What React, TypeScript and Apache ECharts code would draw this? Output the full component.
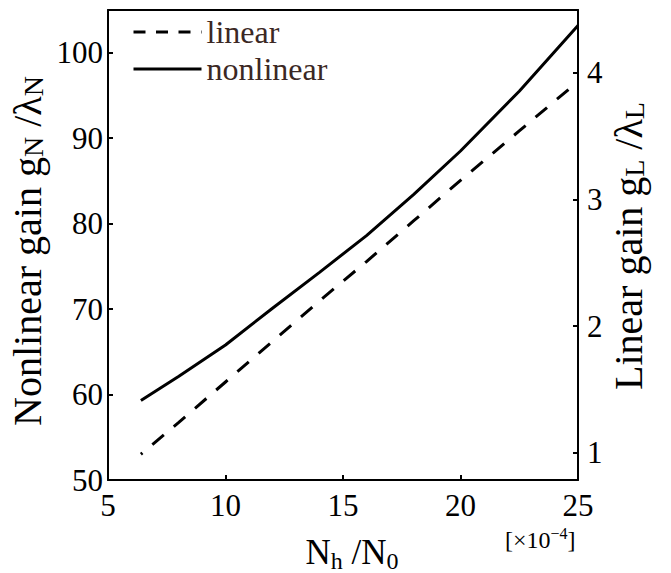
import React, { useEffect, useRef } from "react";
import * as echarts from "echarts";

// Hole density N_h/N_0 (in units of 1e-4)
const densityRatio = [6.4, 8, 10, 12, 14, 16, 18, 20, 22.5, 25];
// Nonlinear gain g_N/λ_N (left axis)
const nonlinearGain = [59.3, 62.1, 65.8, 70.1, 74.3, 78.6, 83.4, 88.5, 95.5, 103.2];
// Linear gain g_L/λ_L (right axis)
const linearGain = [0.99, 1.24, 1.56, 1.88, 2.2, 2.51, 2.83, 3.15, 3.54, 3.93];

const xTicks = [5, 10, 15, 20, 25];
const leftTicks = [50, 60, 70, 80, 90, 100];
const rightTicks = [1, 2, 3, 4];

const seriesNames = ["linear", "nonlinear"];

const SERIF = "Liberation Serif";
const BROWN = "#3b2824";

export default function App() {
  const ref = useRef<HTMLDivElement>(null);

  useEffect(() => {
    if (!ref.current) return;
    const chart = echarts.init(ref.current, undefined, { renderer: "svg" });

    const tickLabel = { fontFamily: SERIF, fontSize: 31, color: "#000" };
    const axisLine = { show: true, lineStyle: { color: "#000", width: 2 } };
    const inTick = { show: true, inside: true, length: 5, lineStyle: { color: "#000", width: 2 } };

    // rich-text pieces for the rotated axis titles: main text and a slightly lowered subscript
    const titleMain = {
      fontFamily: SERIF,
      fontSize: 40,
      color: BROWN,
      lineHeight: 40,
      verticalAlign: "bottom" as const,
    };
    const titleSub = {
      fontFamily: SERIF,
      fontSize: 28,
      color: BROWN,
      lineHeight: 10,
      verticalAlign: "bottom" as const,
    };

    chart.setOption({
      animation: false,
      backgroundColor: "#fff",
      grid: { left: 108, top: 10, right: 93, bottom: 93, containLabel: false },
      legend: {
        orient: "vertical",
        left: 127,
        top: 11,
        itemWidth: 68,
        itemHeight: 14,
        itemGap: 5,
        textStyle: { fontFamily: SERIF, fontSize: 32, lineHeight: 32, color: BROWN },
        data: [
          {
            name: seriesNames[0],
            itemStyle: { opacity: 0 },
            lineStyle: { type: [12, 10.5], dashOffset: 0, width: 3 },
          },
          { name: seriesNames[1], itemStyle: { opacity: 0 }, lineStyle: { width: 3 } },
        ],
      },
      xAxis: [
        {
          type: "value",
          min: xTicks[0],
          max: xTicks[xTicks.length - 1],
          interval: 5,
          axisLine,
          axisTick: inTick,
          axisLabel: { ...tickLabel, margin: 10 },
          splitLine: { show: false },
        },
        {
          type: "value",
          position: "top",
          min: xTicks[0],
          max: xTicks[xTicks.length - 1],
          axisLine,
          axisTick: { show: false },
          axisLabel: { show: false },
          splitLine: { show: false },
        },
      ],
      yAxis: [
        {
          type: "value",
          position: "left",
          min: 50,
          max: 105,
          axisLine,
          axisTick: { ...inTick, customValues: leftTicks },
          axisLabel: { ...tickLabel, margin: 5, customValues: leftTicks },
          splitLine: { show: false },
        },
        {
          type: "value",
          position: "right",
          min: 0.787,
          max: 4.494,
          axisLine,
          axisTick: { ...inTick, customValues: rightTicks },
          axisLabel: { ...tickLabel, margin: 9, customValues: rightTicks },
          splitLine: { show: false },
        },
      ],
      series: [
        {
          name: seriesNames[0],
          type: "line",
          yAxisIndex: 1,
          symbol: "none",
          data: densityRatio.map((x, i) => [x, linearGain[i]]),
          lineStyle: { color: "#000", width: 3, type: [15, 13], dashOffset: 13 },
          itemStyle: { color: "#000" },
        },
        {
          name: seriesNames[1],
          type: "line",
          yAxisIndex: 0,
          symbol: "none",
          data: densityRatio.map((x, i) => [x, nonlinearGain[i]]),
          lineStyle: { color: "#000", width: 3 },
          itemStyle: { color: "#000" },
        },
      ],
      graphic: [
        {
          type: "text",
          x: 27,
          y: 251,
          rotation: Math.PI / 2,
          style: {
            text: "{m|Nonlinear gain g}{s|N}{m| /λ}{s|N}",
            align: "center",
            verticalAlign: "middle",
            rich: { m: titleMain, s: titleSub },
          },
        },
        {
          type: "text",
          x: 628,
          y: 246,
          rotation: Math.PI / 2,
          style: {
            text: "{m|Linear gain g}{s|L}{m| /λ}{s|L}",
            align: "center",
            verticalAlign: "middle",
            rich: { m: titleMain, s: titleSub },
          },
        },
        {
          type: "text",
          x: 352,
          y: 532,
          style: {
            text: "{m|N}{s|h}{m| /N}{s|0}",
            align: "center",
            verticalAlign: "top",
            rich: {
              m: { fontFamily: SERIF, fontSize: 35, color: BROWN, lineHeight: 40 },
              s: {
                fontFamily: SERIF,
                fontSize: 24,
                color: BROWN,
                lineHeight: 1,
                verticalAlign: "top",
                padding: [17, 0, 0, 0],
              },
            },
          },
        },
        {
          type: "text",
          x: 505,
          y: 522,
          style: {
            text: "{m|[×10}{p|−4}{m|]}",
            align: "left",
            verticalAlign: "top",
            rich: {
              m: { fontFamily: SERIF, fontSize: 24, color: BROWN, lineHeight: 30, verticalAlign: "bottom" },
              p: {
                fontFamily: SERIF,
                fontSize: 16,
                color: BROWN,
                lineHeight: 1,
                verticalAlign: "top",
                padding: [3, 0, 0, 0],
              },
            },
          },
        },
      ],
    });

    return () => chart.dispose();
  }, []);

  return (
    <div
      ref={ref}
      style={{ position: "fixed", left: 0, top: 0, width: 671, height: 573 }}
    />
  );
}
